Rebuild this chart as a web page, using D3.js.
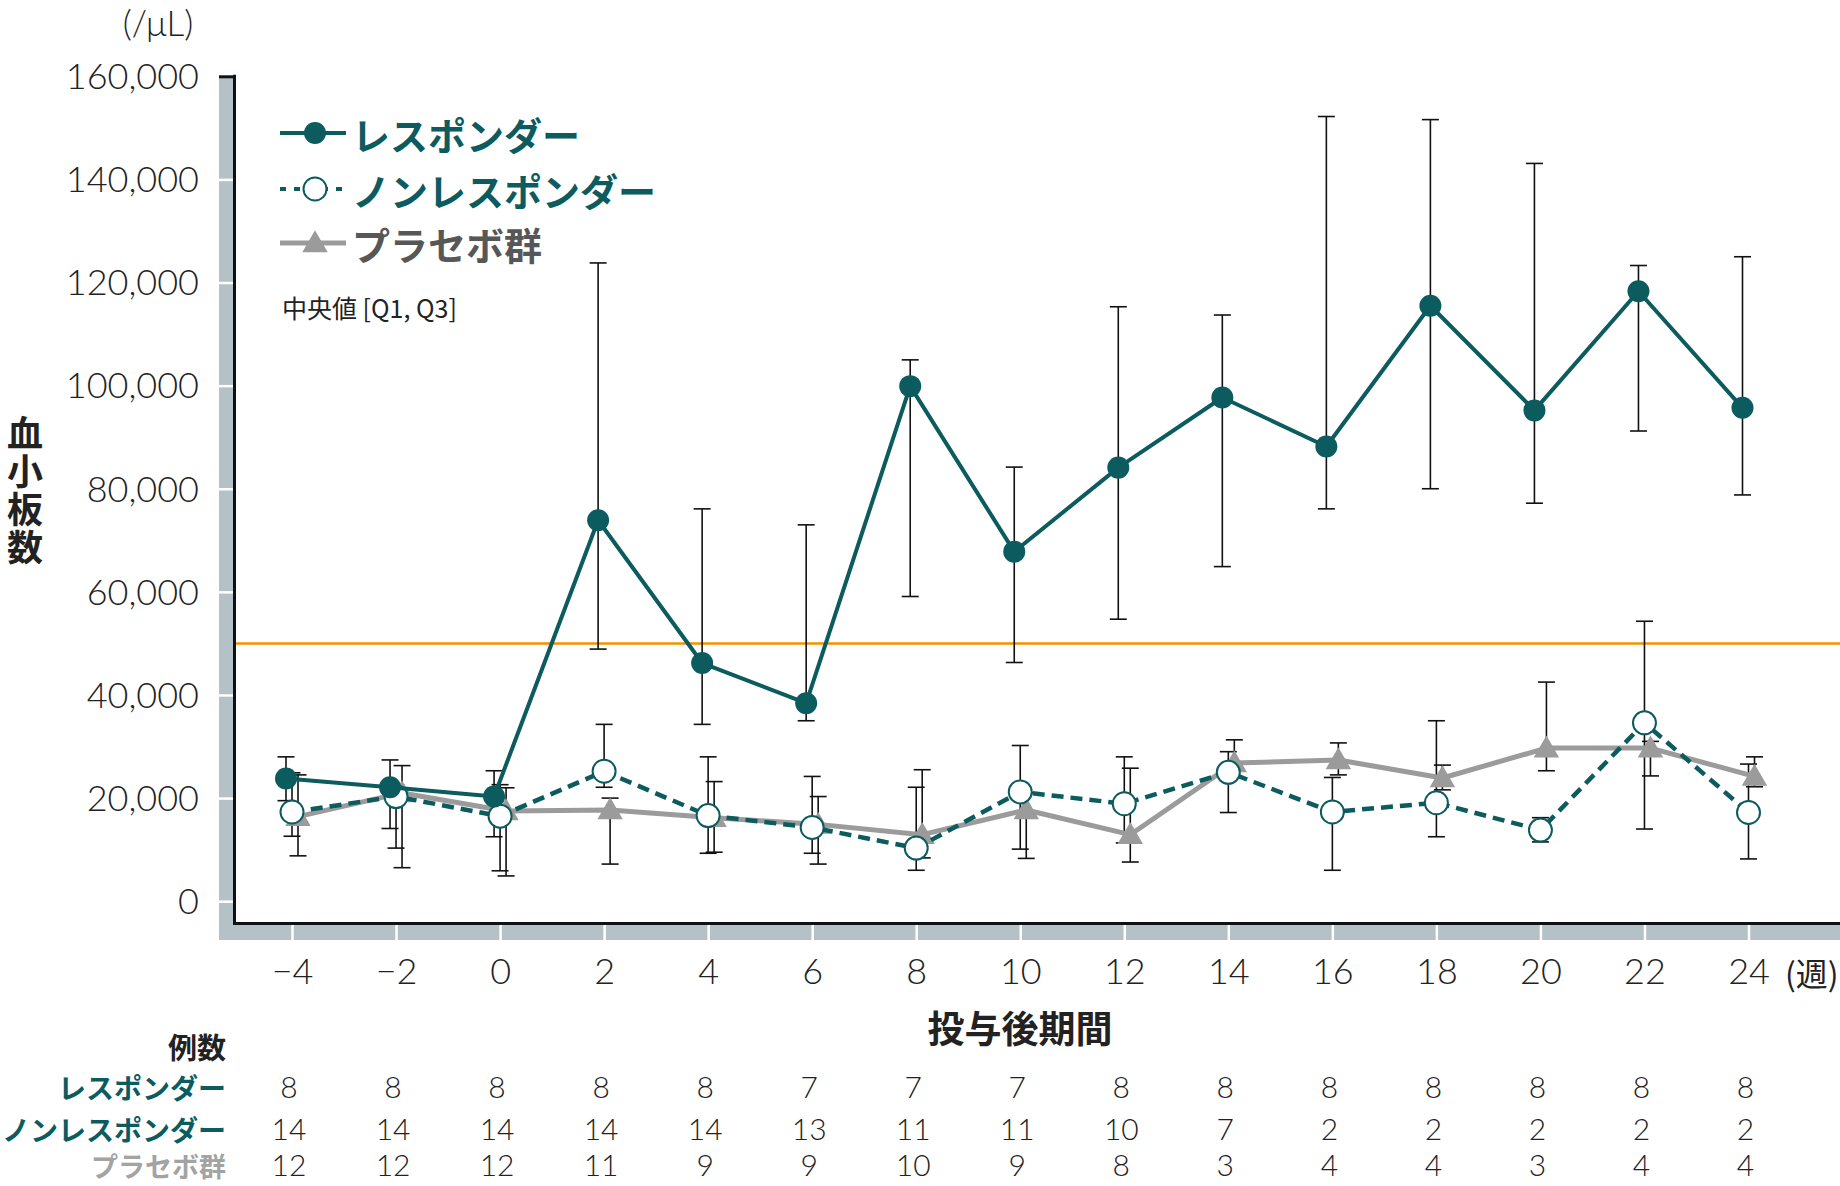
<!DOCTYPE html>
<html><head><meta charset="utf-8">
<script src="https://cdn.jsdelivr.net/npm/d3@7"></script>
<style>
html,body{margin:0;padding:0;background:#fff;}
svg{display:block;}
</style></head>
<body>
<svg id="chart" width="1840" height="1186"></svg>
<script>
// ---- data ----
const weeks = [-4, -2, 0, 2, 4, 6, 8, 10, 12, 14, 16, 18, 20, 22, 24];
const yTicks = [0, 20000, 40000, 60000, 80000, 100000, 120000, 140000, 160000];
const thresholdValue = 50000;

const seriesNames = ["レスポンダー", "ノンレスポンダー", "プラセボ群"];

const responderMedian = [23800, 22100, 20300, 73900, 46200, 38400, 99900, 67800, 84100, 97700, 88200, 115500, 95200, 118300, 95700];
const responderQ1     = [19500, 14100, 12500, 48900, 34300, 35000, 59100, 46300, 54700, 64900, 76100, 80000, 77200, 91200, 78800];
const responderQ3     = [28000, 27400, 25300, 123800, 76100, 73000, 105000, 84200, 115300, 113700, 152200, 151600, 143100, 123300, 125000];

const nonResponderMedian = [17300, 20300, 16500, 25200, 16600, 14300, 10300, 21200, 18900, 25000, 17300, 19100, 13800, 34600, 17200];
const nonResponderQ1     = [12600, 10300, 5900, 22100, 9300, 9300, 6000, 10100, 11300, 17200, 6000, 12500, 11500, 14000, 8200];
const nonResponderQ3     = [24900, 22500, 22600, 34300, 28000, 24200, 22100, 30200, 28000, 29000, 24000, 35000, 16200, 54300, 26600];

const placeboMedian = [16400, 21000, 17500, 17700, 16200, 14900, 12900, 17700, 12900, 26800, 27400, 23900, 29700, 29700, 24200];
const placeboQ1     = [8800, 6500, 4900, 7200, 9500, 7200, 8400, 8300, 7600, 25500, 24500, 21600, 25300, 24300, 22200];
const placeboQ3     = [24500, 26300, 22000, 20000, 23200, 20300, 25500, 21000, 25800, 31300, 30700, 26400, 42500, 31000, 28000];

const responderN    = [8, 8, 8, 8, 8, 7, 7, 7, 8, 8, 8, 8, 8, 8, 8];
const nonResponderN = [14, 14, 14, 14, 14, 13, 11, 11, 10, 7, 2, 2, 2, 2, 2];
const placeboN      = [12, 12, 12, 11, 9, 9, 10, 9, 8, 3, 4, 4, 3, 4, 4];

// ---- styling ----
const TEAL = "#0b5b5f", GRAY = "#9b9b9b", ORANGE = "#f39200", BAND = "#b4c1c7", INK = "#222";
const NUMFONT = "Lato, 'Noto Sans', sans-serif";
const JPFONT = "'Noto Sans CJK JP', 'Noto Sans', sans-serif";

const svg = d3.select("#chart");
const x = d3.scaleLinear().domain([-4, 24]).range([292, 1748.5]);
const y = d3.scaleLinear().domain([0, 160000]).range([901.2, 76.3]);

const axisXpos = 234.5, bandLeft = 219, xAxisY = 923.5, bandBottom = 940, W = 1840;

// bands
svg.append("rect").attr("x", bandLeft).attr("y", y(160000)).attr("width", axisXpos - 1.5 - bandLeft)
  .attr("height", bandBottom - y(160000)).attr("fill", BAND);
svg.append("rect").attr("x", bandLeft).attr("y", xAxisY + 1.5).attr("width", W - bandLeft)
  .attr("height", bandBottom - xAxisY - 1.5).attr("fill", BAND);

// y axis
const yAxis = svg.append("g").attr("transform", `translate(${axisXpos - 1.5},0)`)
  .call(d3.axisLeft(y).tickValues(yTicks).tickSize(axisXpos - 1.5 - bandLeft).tickPadding(20)
    .tickFormat(d3.format(",")));
yAxis.select(".domain").remove();
yAxis.selectAll(".tick line").attr("stroke", d => d === 160000 ? "#111" : "#fff").attr("stroke-width", d => d === 160000 ? 3 : 2.5);
yAxis.selectAll(".tick text").attr("font-family", NUMFONT).attr("font-weight", 300)
  .attr("font-size", 36).attr("fill", INK).attr("dy", "0.34em");

// x axis
const xAxis = svg.append("g").attr("transform", `translate(0,${xAxisY + 1.5})`)
  .call(d3.axisBottom(x).tickValues(weeks).tickSize(bandBottom - xAxisY - 1.5)
    .tickFormat(d => d < 0 ? "−" + Math.abs(d) : String(d)));
xAxis.select(".domain").remove();
xAxis.selectAll(".tick line").attr("stroke", "#fff").attr("stroke-width", 2.5);
xAxis.selectAll(".tick text").attr("font-family", NUMFONT).attr("font-weight", 300)
  .attr("font-size", 36).attr("fill", INK).attr("y", 59).attr("dy", 0);

// axis lines
svg.append("line").attr("x1", axisXpos).attr("x2", axisXpos).attr("y1", y(160000) - 1.5).attr("y2", xAxisY + 1.5)
  .attr("stroke", "#111").attr("stroke-width", 3);
svg.append("line").attr("x1", axisXpos - 1.5).attr("x2", W).attr("y1", xAxisY).attr("y2", xAxisY)
  .attr("stroke", "#111").attr("stroke-width", 3);

// threshold
svg.append("line").attr("x1", axisXpos + 1.5).attr("x2", W).attr("y1", y(thresholdValue)).attr("y2", y(thresholdValue))
  .attr("stroke", ORANGE).attr("stroke-width", 2.5);

// series
const series = [
  { name: seriesNames[2], med: placeboMedian, q1: placeboQ1, q3: placeboQ3, dx: 6, color: GRAY, width: 5, dash: null, marker: "tri" },
  { name: seriesNames[1], med: nonResponderMedian, q1: nonResponderQ1, q3: nonResponderQ3, dx: 0, color: TEAL, width: 4.5, dash: "12,7", marker: "open" },
  { name: seriesNames[0], med: responderMedian, q1: responderQ1, q3: responderQ3, dx: -6, color: TEAL, width: 4, dash: null, marker: "fill" }
];

const capHalf = 8.5;
const triPath = d3.symbol().type(d3.symbolTriangle).size(280)();

function drawMarker(g, type, cx, cy) {
  if (type === "fill") g.append("circle").attr("cx", cx).attr("cy", cy).attr("r", 11).attr("fill", TEAL);
  else if (type === "open") g.append("circle").attr("cx", cx).attr("cy", cy).attr("r", 11.5).attr("fill", "#fff").attr("stroke", TEAL).attr("stroke-width", 2);
  else g.append("path").attr("d", triPath).attr("transform", `translate(${cx},${cy + 2})`).attr("fill", GRAY);
}

// error bars (all, beneath lines)
const ebG = svg.append("g");
series.forEach(s => {
  weeks.forEach((w, i) => {
    const cx = x(w) + s.dx;
    ebG.append("line").attr("x1", cx).attr("x2", cx).attr("y1", y(s.q1[i])).attr("y2", y(s.q3[i])).attr("stroke", "#111").attr("stroke-width", 1.6);
    [s.q1[i], s.q3[i]].forEach(v => {
      ebG.append("line").attr("x1", cx - capHalf).attr("x2", cx + capHalf).attr("y1", y(v)).attr("y2", y(v)).attr("stroke", "#111").attr("stroke-width", 1.6);
    });
  });
});

series.forEach(s => {
  const g = svg.append("g");
  const line = d3.line().x((d, i) => x(weeks[i]) + s.dx).y(d => y(d));
  g.append("path").attr("d", line(s.med)).attr("fill", "none").attr("stroke", s.color).attr("stroke-width", s.width)
    .attr("stroke-dasharray", s.dash).attr("stroke-linejoin", "round");
  s.med.forEach((v, i) => drawMarker(g, s.marker, x(weeks[i]) + s.dx, y(v)));
});

// legend
const legend = svg.append("g");
const legendItems = [
  { label: seriesNames[0], y: 133, color: TEAL, lw: 4, dash: null, marker: "fill", text: TEAL },
  { label: seriesNames[1], y: 189, color: TEAL, lw: 4, dash: "6,8", marker: "open", text: TEAL },
  { label: seriesNames[2], y: 243, color: GRAY, lw: 5, dash: null, marker: "tri", text: "#575757" }
];
legendItems.forEach(it => {
  legend.append("line").attr("x1", 280).attr("x2", 346).attr("y1", it.y).attr("y2", it.y)
    .attr("stroke", it.color).attr("stroke-width", it.lw).attr("stroke-dasharray", it.dash);
  drawMarker(legend, it.marker, 315, it.y);
  legend.append("text").attr("x", 352).attr("y", it.y).attr("dominant-baseline", "central")
    .attr("font-family", JPFONT).attr("font-weight", 700).attr("font-size", 38).attr("fill", it.text).text(it.label);
});
legend.append("text").attr("x", 282).attr("y", 307).attr("dominant-baseline", "central")
  .attr("font-family", JPFONT).attr("font-size", 25).attr("fill", INK).text("中央値 [Q1, Q3]");

// unit label
svg.append("text").attr("x", 158).attr("y", 22).attr("text-anchor", "middle").attr("dominant-baseline", "central")
  .attr("font-family", NUMFONT).attr("font-weight", 300).attr("font-size", 35).attr("fill", INK).text("(/μL)");

// y title (vertical)
svg.append("text").attr("x", 25).attr("y", 491).attr("text-anchor", "middle")
  .style("writing-mode", "vertical-rl").attr("letter-spacing", 2)
  .attr("font-family", JPFONT).attr("font-weight", 700).attr("font-size", 36).attr("fill", INK).text("血小板数");

// x unit and title
svg.append("text").attr("x", 1785).attr("y", 972).attr("dominant-baseline", "central")
  .attr("font-family", JPFONT).attr("font-size", 32).attr("fill", INK).text("(週)");
svg.append("text").attr("x", 1020).attr("y", 1027).attr("text-anchor", "middle").attr("dominant-baseline", "central")
  .attr("font-family", JPFONT).attr("font-weight", 700).attr("font-size", 37).attr("fill", INK).text("投与後期間");

// count table
svg.append("text").attr("x", 226).attr("y", 1046).attr("text-anchor", "end").attr("dominant-baseline", "central")
  .attr("font-family", JPFONT).attr("font-weight", 700).attr("font-size", 29).attr("fill", INK).text("例数");
const tableRows = [
  { label: seriesNames[0], n: responderN, y: 1087, color: TEAL, fs: 28 },
  { label: seriesNames[1], n: nonResponderN, y: 1129, color: TEAL, fs: 28 },
  { label: seriesNames[2], n: placeboN, y: 1165, color: "#a3a3a3", fs: 27 }
];
tableRows.forEach(r => {
  svg.append("text").attr("x", 226).attr("y", r.y).attr("text-anchor", "end").attr("dominant-baseline", "central")
    .attr("font-family", JPFONT).attr("font-weight", 700).attr("font-size", r.fs).attr("fill", r.color).text(r.label);
  svg.append("g").selectAll("text").data(r.n).join("text")
    .attr("x", (d, i) => x(weeks[i]) - 3).attr("y", r.y + 11).attr("text-anchor", "middle")
    .attr("font-family", NUMFONT).attr("font-weight", 300).attr("font-size", 30).attr("fill", INK).text(d => d);
});
</script>
</body></html>
